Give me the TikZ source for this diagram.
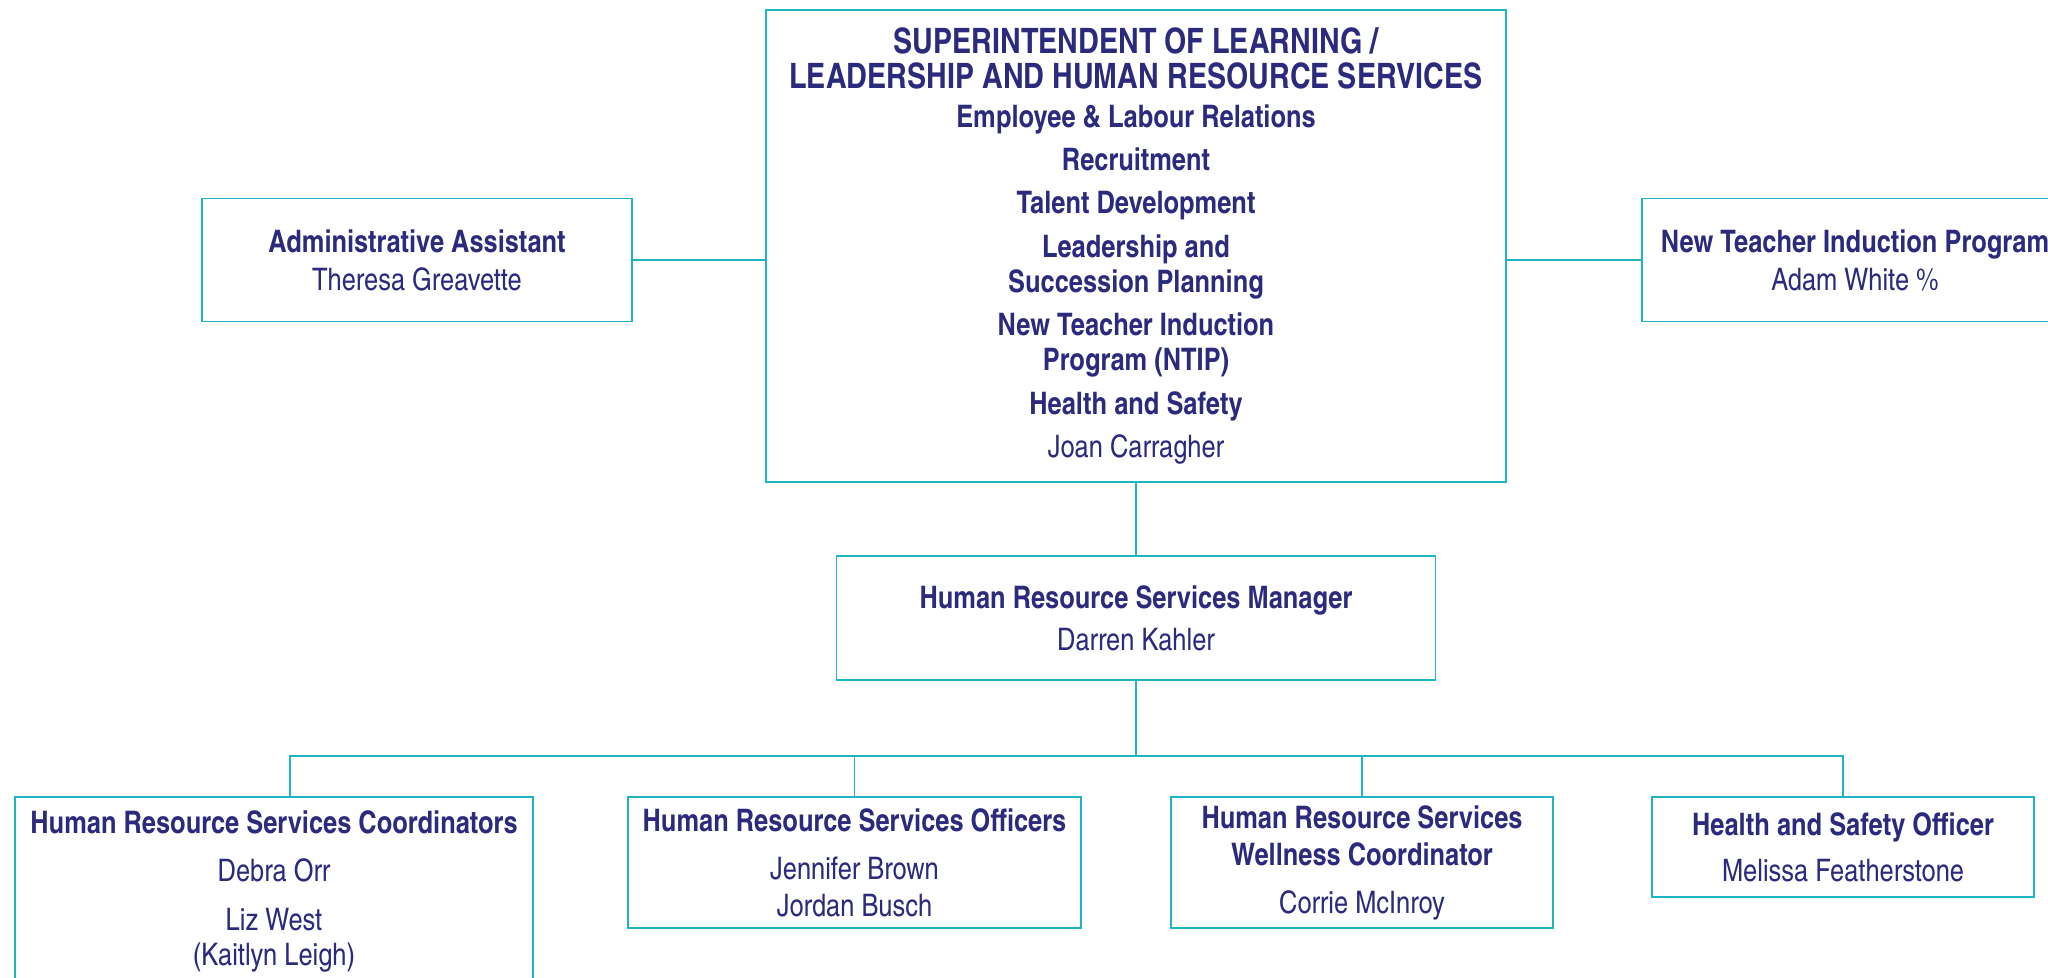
\documentclass[tikz,border=0pt]{standalone}
\usepackage{fontspec}
\setmainfont{texgyreheroscn}[Extension=.otf, UprightFont=*-regular, BoldFont=*-bold]
\definecolor{orgnavy}{RGB}{43,42,125}
\definecolor{orgteal}{RGB}{30,180,195}
\tikzstyle{orgbox} = [draw=orgteal, line width=0.8pt, fill=white,
    rectangle, inner sep=0pt, text=orgnavy, align=center,
    font=\fontsize{15.5}{17.5}\selectfont\bfseries]
\tikzstyle{orgline} = [draw=orgteal, line width=0.8pt]
\newcommand{\toptitle}{\fontsize{17.5}{20}\selectfont\bfseries}
\newcommand{\nametext}{\mdseries}

\begin{document}
\begin{tikzpicture}[x=0.5pt, y=-0.5pt]
    \useasboundingbox (0,0) rectangle (2048,978);
    \node [orgbox, minimum width=370pt, minimum height=236pt] (super) at (1136,246) {%
        \toptitle SUPERINTENDENT OF LEARNING /\\
        \toptitle LEADERSHIP AND HUMAN RESOURCE SERVICES\\[1.8pt]
        Employee \& Labour Relations\\[4.2pt]
        Recruitment\\[4.2pt]
        Talent Development\\[4.2pt]
        Leadership and\\
        Succession Planning\\[4.2pt]
        New Teacher Induction\\
        Program (NTIP)\\[4.2pt]
        Health and Safety\\[4.2pt]
        \nametext Joan Carragher};
    \node [orgbox, minimum width=215pt, minimum height=61.5pt] (admin) at (417,260) {%
        Administrative Assistant\\[1.5pt]
        \nametext Theresa Greavette};
    \node [orgbox, minimum width=213pt, minimum height=61.5pt] (ntip) at (1855,260) {%
        New Teacher Induction Program\\[1.5pt]
        \nametext Adam White \%};
    \node [orgbox, minimum width=299.5pt, minimum height=62pt] (mgr) at (1136,618) {%
        Human Resource Services Manager\\[3.5pt]
        \nametext Darren Kahler};
    \node [orgbox, minimum width=259pt, minimum height=94pt] (coord) at (274,891) {%
        Human Resource Services Coordinators\\[6.5pt]
        \nametext Debra Orr\\[7pt]
        \nametext Liz West\\
        \nametext (Kaitlyn Leigh)};
    \node [orgbox, minimum width=226.5pt, minimum height=65.5pt] (officers) at (854.5,862.5) {%
        Human Resource Services Officers\\[6.5pt]
        \nametext Jennifer Brown\\[1pt]
        \nametext Jordan Busch};
    \node [orgbox, minimum width=191pt, minimum height=65.5pt] (wellness) at (1362,862.5) {%
        Human Resource Services\\[1pt]
        Wellness Coordinator\\[6.5pt]
        \nametext Corrie McInroy};
    \node [orgbox, minimum width=191pt, minimum height=50pt] (hso) at (1843,847) {%
        Health and Safety Officer\\[5.5pt]
        \nametext Melissa Featherstone};

    % connectors
    \draw [orgline] (admin.east) -- (admin.east -| super.west);
    \draw [orgline] (super.east |- ntip.west) -- (ntip.west);
    \draw [orgline] (super.south) -- (mgr.north);
    \coordinate (bus) at (1136,756);
    \draw [orgline] (mgr.south) -- (bus);
    \draw [orgline] ([xshift=8pt]coord.north) |- (hso.north |- bus) -- (hso.north);
    \draw [orgline] (officers.north) -- (officers.north |- bus);
    \draw [orgline] (wellness.north) -- (wellness.north |- bus);
\end{tikzpicture}
\end{document}
